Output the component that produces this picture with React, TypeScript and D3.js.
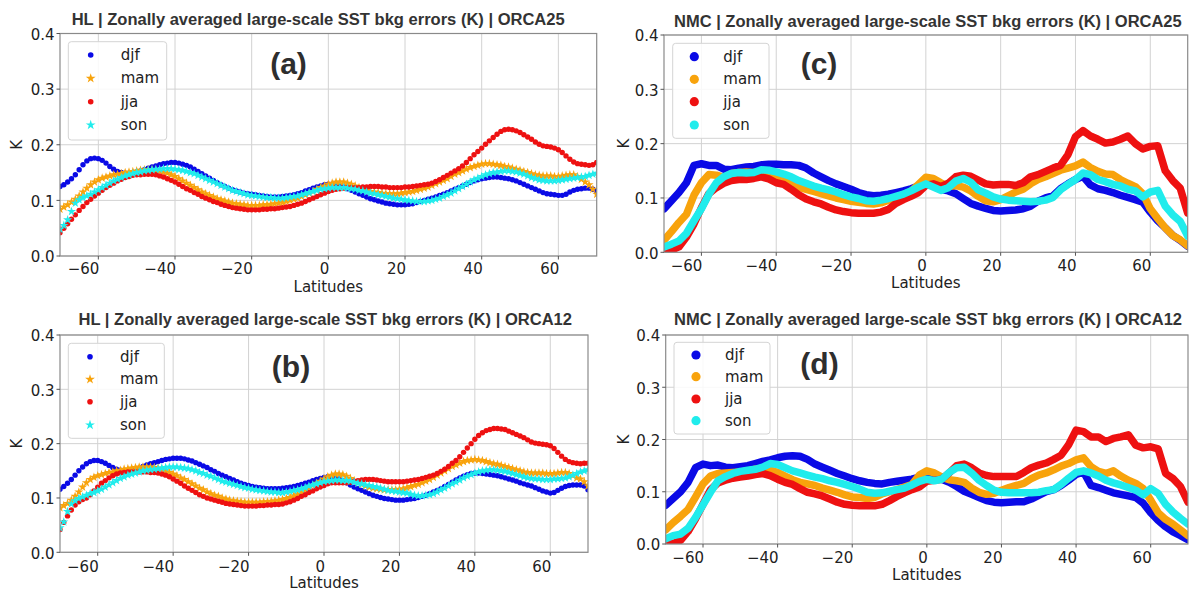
import * as d3 from "d3";

// latitude grids (deg)
const LAT_HL = [
  -70, -69, -68, -67, -66, -65, -64, -63, -62, -61, -60, -59, -58, -57, -56, -55, -54, -53, -52, -51,
  -50, -49, -48, -47, -46, -45, -44, -43, -42, -41, -40, -39, -38, -37, -36, -35, -34, -33, -32, -31,
  -30, -29, -28, -27, -26, -25, -24, -23, -22, -21, -20, -19, -18, -17, -16, -15, -14, -13, -12, -11,
  -10, -9, -8, -7, -6, -5, -4, -3, -2, -1, 0, 1, 2, 3, 4, 5, 6, 7, 8, 9,
  10, 11, 12, 13, 14, 15, 16, 17, 18, 19, 20, 21, 22, 23, 24, 25, 26, 27, 28, 29,
  30, 31, 32, 33, 34, 35, 36, 37, 38, 39, 40, 41, 42, 43, 44, 45, 46, 47, 48, 49,
  50, 51, 52, 53, 54, 55, 56, 57, 58, 59, 60, 61, 62, 63, 64, 65, 66, 67, 68, 69, 70,
];
const LAT_NMC = [
  -70, -68, -66, -64, -62, -60, -58, -56, -54, -52, -50, -48, -46, -44, -42, -40, -38, -36, -34, -32,
  -30, -28, -26, -24, -22, -20, -18, -16, -14, -12, -10, -8, -6, -4, -2, 0, 2, 4, 6, 8,
  10, 12, 14, 16, 18, 20, 22, 24, 26, 28, 30, 32, 34, 36, 38, 40, 42, 44, 46, 48,
  50, 52, 54, 56, 58, 60, 62, 64, 66, 68, 70,
];

const SEASONS = ["djf", "mam", "jja", "son"];
const X_TICKS = [-60, -40, -20, 0, 20, 40, 60];
const Y_TICKS = [0, 0.1, 0.2, 0.3, 0.4];
const Y_TICK_LABELS = ["0.0", "0.1", "0.2", "0.3", "0.4"];

// values in mK (1e-3 K)
const HL25_DJF = [
  125, 128, 133, 139, 146, 155, 164, 171, 175, 176, 175, 172, 167, 161, 156, 152, 150, 149, 149, 150,
  151, 153, 155, 158, 160, 162, 164, 166, 167, 168, 168, 167, 165, 163, 160, 156, 152, 148, 144, 140,
  136, 132, 128, 125, 122, 119, 117, 115, 113, 112, 111, 110, 109, 108, 107, 106, 106, 106, 107, 108,
  109, 110, 112, 114, 117, 119, 122, 124, 126, 128, 129, 129, 128, 126, 124, 121, 118, 115, 112, 109,
  106, 103, 101, 99, 97, 95, 94, 93, 92, 92, 92, 93, 94, 96, 98, 100, 102, 104, 106, 109,
  111, 114, 117, 120, 123, 126, 129, 132, 135, 137, 139, 140, 141, 142, 142, 141, 140, 139, 137, 135,
  132, 129, 126, 123, 120, 117, 114, 112, 111, 110, 109, 109, 111, 115, 118, 120, 121, 122, 122, 120, 117,
];
const HL25_MAM = [
  84, 88, 92, 97, 102, 108, 115, 122, 128, 133, 137, 140, 142, 144, 146, 147, 148, 150, 151, 152,
  153, 154, 155, 155, 155, 154, 153, 151, 149, 146, 143, 139, 135, 131, 127, 123, 119, 115, 112, 109,
  106, 103, 101, 99, 97, 95, 94, 93, 92, 91, 91, 91, 91, 92, 92, 93, 94, 95, 96, 98,
  100, 102, 104, 107, 110, 113, 116, 120, 123, 126, 129, 131, 133, 133, 133, 131, 129, 126, 123, 120,
  118, 116, 115, 114, 113, 112, 112, 112, 112, 113, 114, 115, 116, 118, 120, 122, 124, 127, 130, 133,
  136, 139, 143, 147, 150, 153, 156, 159, 161, 163, 165, 166, 166, 165, 164, 163, 161, 160, 158, 156,
  154, 152, 150, 148, 146, 145, 144, 144, 144, 143, 143, 144, 145, 146, 146, 143, 138, 133, 128, 120, 111,
];
const HL25_JJA = [
  42, 50, 58, 66, 74, 82, 89, 96, 102, 108, 113, 118, 123, 127, 131, 135, 138, 141, 143, 145,
  146, 146, 147, 147, 147, 146, 144, 142, 139, 136, 133, 129, 125, 121, 118, 114, 111, 107, 104, 101,
  98, 96, 93, 91, 89, 87, 86, 85, 84, 83, 83, 83, 83, 84, 84, 85, 85, 86, 87, 88,
  89, 91, 93, 95, 98, 101, 104, 107, 110, 113, 116, 118, 120, 121, 122, 123, 123, 123, 123, 124,
  124, 125, 125, 125, 124, 124, 123, 123, 123, 123, 124, 124, 125, 126, 127, 128, 129, 131, 134, 137,
  141, 145, 149, 153, 157, 162, 168, 175, 182, 188, 194, 201, 207, 213, 219, 224, 227, 228, 227, 225,
  222, 218, 214, 210, 205, 201, 198, 197, 196, 194, 191, 186, 180, 174, 169, 166, 165, 164, 163, 164, 168,
];
const HL25_SON = [
  48, 55, 65, 80, 95, 101, 105, 108, 111, 115, 119, 123, 127, 131, 135, 138, 141, 144, 146, 148,
  150, 151, 153, 154, 155, 156, 156, 157, 157, 157, 156, 155, 154, 152, 150, 148, 145, 142, 139, 136,
  133, 130, 127, 124, 121, 118, 116, 114, 112, 110, 109, 108, 107, 106, 105, 105, 104, 104, 104, 105,
  106, 107, 108, 110, 112, 114, 116, 118, 120, 121, 122, 123, 123, 123, 123, 122, 121, 120, 118, 117,
  115, 113, 112, 110, 109, 107, 106, 104, 103, 102, 101, 100, 99, 98, 98, 98, 99, 100, 102, 104,
  107, 110, 113, 117, 121, 125, 129, 133, 137, 140, 143, 146, 148, 150, 151, 152, 153, 153, 152, 151,
  149, 147, 144, 141, 139, 137, 136, 135, 135, 135, 136, 137, 138, 139, 140, 141, 142, 143, 145, 147, 149,
];

const HL12_DJF = [
  116, 121, 127, 134, 142, 150, 157, 163, 167, 169, 169, 167, 164, 160, 156, 153, 151, 150, 150, 151,
  153, 155, 158, 161, 163, 165, 167, 169, 171, 172, 173, 173, 173, 172, 170, 168, 165, 162, 159, 156,
  152, 149, 145, 142, 139, 136, 133, 130, 127, 125, 123, 121, 120, 119, 118, 117, 117, 117, 117, 118,
  119, 120, 121, 123, 125, 127, 129, 132, 134, 136, 138, 139, 138, 137, 135, 132, 128, 124, 120, 117,
  114, 111, 108, 105, 103, 101, 99, 98, 97, 96, 96, 96, 97, 98, 99, 101, 103, 105, 108, 111,
  114, 117, 121, 125, 129, 133, 137, 140, 143, 145, 146, 146, 145, 144, 143, 142, 141, 139, 137, 135,
  133, 131, 128, 126, 124, 122, 119, 116, 113, 111, 109, 110, 114, 118, 121, 123, 124, 124, 124, 122, 115,
];
const HL12_MAM = [
  82, 86, 90, 96, 103, 111, 120, 128, 134, 138, 141, 143, 145, 147, 148, 150, 151, 153, 154, 155,
  156, 157, 157, 157, 157, 156, 155, 153, 150, 147, 144, 141, 137, 134, 130, 126, 122, 118, 115, 111,
  108, 105, 103, 100, 98, 96, 95, 94, 93, 92, 92, 92, 92, 92, 93, 93, 94, 95, 96, 97,
  99, 101, 104, 107, 111, 115, 119, 123, 127, 131, 135, 139, 142, 144, 144, 143, 140, 136, 132, 128,
  125, 122, 120, 118, 117, 116, 115, 115, 115, 115, 116, 117, 119, 121, 123, 125, 128, 131, 134, 138,
  142, 146, 150, 154, 158, 161, 164, 167, 169, 170, 171, 170, 169, 167, 165, 163, 162, 160, 158, 156,
  154, 152, 150, 148, 147, 146, 146, 146, 146, 145, 145, 145, 146, 147, 147, 145, 141, 137, 135, 130, 122,
];
const HL12_JJA = [
  42, 55, 67, 78, 87, 93, 97, 100, 106, 113, 120, 127, 132, 137, 141, 144, 146, 147, 148, 148,
  148, 148, 148, 148, 147, 147, 146, 144, 142, 139, 135, 131, 127, 122, 118, 114, 110, 106, 103, 100,
  98, 96, 94, 92, 90, 89, 88, 87, 86, 85, 85, 85, 85, 86, 86, 87, 87, 88, 88, 89,
  91, 93, 96, 99, 103, 106, 110, 113, 117, 120, 123, 126, 128, 128, 128, 128, 128, 129, 131, 132,
  133, 134, 134, 134, 133, 132, 131, 130, 130, 130, 130, 130, 131, 132, 133, 134, 136, 138, 140, 142,
  145, 149, 153, 158, 164, 169, 176, 184, 192, 200, 208, 215, 220, 224, 226, 228, 228, 227, 226, 223,
  220, 217, 214, 211, 207, 203, 201, 200, 199, 198, 196, 191, 184, 177, 171, 167, 165, 164, 163, 164, 164,
];
const HL12_SON = [
  45, 56, 75, 89, 95, 99, 102, 105, 108, 110, 113, 116, 120, 124, 128, 132, 136, 139, 142, 144,
  146, 148, 150, 151, 152, 153, 154, 155, 156, 157, 157, 157, 156, 155, 154, 152, 150, 147, 145, 142,
  140, 137, 134, 131, 129, 127, 125, 123, 121, 119, 118, 116, 115, 114, 113, 112, 111, 111, 110, 110,
  111, 112, 114, 115, 117, 119, 122, 124, 126, 128, 130, 131, 132, 133, 133, 132, 132, 131, 129, 127,
  126, 124, 123, 121, 120, 118, 116, 114, 113, 112, 111, 110, 109, 107, 105, 104, 104, 105, 106, 108,
  111, 115, 118, 122, 126, 129, 133, 137, 140, 143, 146, 148, 150, 151, 152, 152, 151, 150, 149, 147,
  145, 143, 141, 139, 137, 136, 135, 135, 134, 134, 134, 135, 135, 136, 137, 139, 142, 145, 148, 150, 152,
];

const NMC25_DJF = [
  80, 95, 110, 128, 160, 163, 160, 160, 153, 152, 155, 157, 158, 161, 162, 162, 161, 161, 160, 155,
  146, 139, 132, 126, 121, 116, 110, 106, 104, 105, 107, 110, 113, 117, 122, 126, 125, 116, 113, 108,
  99, 90, 85, 81, 77, 76, 77, 78, 80, 85, 94, 100, 104, 117, 126, 134, 140, 124, 117, 114,
  110, 105, 101, 97, 92, 74, 58, 45, 31, 22, 11,
];
const NMC25_MAM = [
  22, 38, 55, 70, 105, 128, 143, 142, 138, 145, 147, 148, 147, 148, 145, 139, 133, 126, 120, 116,
  112, 108, 104, 100, 97, 94, 92, 90, 89, 91, 96, 101, 106, 112, 125, 138, 136, 128, 121, 123,
  120, 113, 103, 95, 93, 97, 104, 111, 116, 126, 134, 139, 145, 151, 155, 159, 166, 156, 149, 144,
  143, 134, 127, 121, 108, 80, 62, 45, 31, 23, 12,
];
const NMC25_JJA = [
  0, 4, 10, 28, 52, 82, 108, 119, 127, 132, 134, 134, 136, 139, 135, 128, 125, 116, 106, 98,
  93, 89, 83, 78, 75, 73, 72, 72, 72, 74, 79, 90, 97, 103, 110, 123, 126, 121, 127, 139,
  142, 140, 133, 126, 124, 125, 125, 123, 128, 139, 143, 149, 155, 160, 180, 213, 224, 214, 208, 201,
  203, 208, 214, 200, 190, 195, 196, 150, 132, 118, 72,
];
const NMC25_SON = [
  10, 15, 21, 35, 58, 80, 107, 128, 139, 145, 147, 146, 147, 152, 151, 148, 144, 139, 132, 127,
  122, 118, 115, 111, 106, 102, 99, 95, 94, 96, 99, 103, 107, 113, 120, 126, 120, 114, 119, 131,
  136, 129, 115, 109, 102, 98, 96, 95, 94, 93, 94, 96, 101, 115, 125, 134, 146, 143, 134, 130,
  125, 122, 116, 113, 102, 111, 114, 85, 69, 57, 30,
];

const NMC12_DJF = [
  74, 87, 100, 118, 146, 153, 150, 151, 147, 146, 148, 150, 154, 158, 161, 165, 168, 169, 168, 162,
  153, 147, 141, 135, 130, 125, 121, 118, 116, 115, 118, 120, 122, 124, 128, 134, 131, 124, 118, 110,
  101, 95, 89, 83, 80, 79, 80, 81, 81, 86, 93, 100, 104, 112, 122, 133, 138, 112, 108, 103,
  98, 95, 92, 89, 78, 60, 45, 33, 23, 16, 8,
];
const NMC12_MAM = [
  27, 41, 53, 66, 90, 115, 130, 135, 136, 137, 138, 140, 143, 145, 142, 137, 130, 123, 118, 115,
  112, 107, 103, 99, 94, 90, 89, 87, 89, 96, 100, 104, 109, 114, 132, 140, 136, 128, 123, 121,
  118, 107, 99, 95, 97, 103, 108, 112, 116, 125, 132, 136, 142, 149, 154, 161, 165, 148, 139, 135,
  140, 130, 122, 116, 106, 84, 60, 47, 38, 27, 16,
];
const NMC12_JJA = [
  0, 1, 7, 24, 48, 76, 104, 117, 122, 126, 128, 130, 133, 135, 131, 124, 118, 114, 106, 99,
  96, 92, 86, 80, 76, 74, 73, 73, 73, 76, 83, 91, 98, 104, 109, 120, 122, 124, 136, 150,
  153, 146, 136, 131, 129, 129, 129, 129, 137, 146, 151, 155, 162, 170, 190, 218, 215, 205, 205, 196,
  202, 205, 209, 189, 184, 186, 182, 135, 125, 110, 80,
];
const NMC12_SON = [
  10, 16, 19, 30, 51, 75, 99, 121, 129, 135, 139, 141, 143, 147, 154, 152, 146, 140, 136, 132,
  128, 125, 121, 118, 114, 110, 105, 99, 97, 98, 101, 104, 107, 113, 120, 124, 121, 124, 137, 146,
  147, 136, 122, 112, 103, 99, 98, 98, 98, 98, 99, 102, 104, 114, 126, 137, 140, 136, 130, 122,
  117, 113, 108, 103, 94, 106, 97, 76, 61, 49, 38,
];

const COLORS: Record<string, string> = {
  djf: "#0a0ae6",
  mam: "#f8a30c",
  jja: "#ee1111",
  son: "#20ecec",
};
const MARKER: Record<string, string> = { djf: "circle", mam: "star", jja: "circle", son: "star" };

const FONT = "'DejaVu Sans', sans-serif";
const TITLE_FONT = "'Liberation Sans', Arial, sans-serif";

const panels = [
  {
    id: "a",
    title: "HL | Zonally averaged large-scale SST bkg errors (K) | ORCA25",
    kind: "markers",
    lats: LAT_HL,
    series: [HL25_DJF, HL25_MAM, HL25_JJA, HL25_SON],
    x0: 60, x1: 596.7, y0: 33.5, y1: 256,
    titleX: 71.7, titleW: 493, titleY: 25,
    leg: { x: 68.3, y: 41.7, w: 98.4, h: 98.3, mx: 90.7, tx: 120.7, rows: [55, 78.3, 101.7, 125] },
    tag: { x: 288.5, y: 73.7 },
    tickY: 274, labelY: 291.7, kX: 16,
  },
  {
    id: "b",
    title: "HL | Zonally averaged large-scale SST bkg errors (K) | ORCA12",
    kind: "markers",
    lats: LAT_HL,
    series: [HL12_DJF, HL12_MAM, HL12_JJA, HL12_SON],
    x0: 60, x1: 588, y0: 335, y1: 552.3,
    titleX: 78.5, titleW: 493.5, titleY: 325,
    leg: { x: 68.3, y: 343.3, w: 96, h: 95, mx: 90, tx: 120, rows: [356.7, 379.3, 401.7, 425] },
    tag: { x: 291, y: 377 },
    tickY: 571.7, labelY: 588, kX: 16,
  },
  {
    id: "c",
    title: "NMC | Zonally averaged large-scale SST bkg errors (K) | ORCA25",
    kind: "lines",
    lats: LAT_NMC,
    series: [NMC25_DJF, NMC25_MAM, NMC25_JJA, NMC25_SON],
    x0: 664, x1: 1187.7, y0: 35, y1: 252.3,
    titleX: 674, titleW: 507.7, titleY: 26.5,
    leg: { x: 672.7, y: 43.3, w: 96.3, h: 95, mx: 694.3, tx: 723.3, rows: [56.7, 79.3, 101.7, 125] },
    tag: { x: 819, y: 73.7 },
    tickY: 270.7, labelY: 288, kX: 623,
  },
  {
    id: "d",
    title: "NMC | Zonally averaged large-scale SST bkg errors (K) | ORCA12",
    kind: "lines",
    lats: LAT_NMC,
    series: [NMC12_DJF, NMC12_MAM, NMC12_JJA, NMC12_SON],
    x0: 665.7, x1: 1188, y0: 335, y1: 544,
    titleX: 674, titleW: 508, titleY: 325,
    leg: { x: 674, y: 342.3, w: 96, h: 91.7, mx: 696, tx: 725, rows: [355, 376.7, 399, 420.7] },
    tag: { x: 819.5, y: 373.7 },
    tickY: 563.3, labelY: 580, kX: 623.5,
  },
];

const starPath = d3.symbol(d3.symbolStar, 26)() as string;
const starLegend = d3.symbol(d3.symbolStar, 30)() as string;

function Panel({ p }: { p: (typeof panels)[number] }) {
  const x = d3.scaleLinear().domain([-70, 70]).range([p.x0, p.x1]);
  const y = d3.scaleLinear().domain([0, 0.4]).range([p.y1, p.y0]);
  const line = d3
    .line<number>()
    .x((_, i) => x(p.lats[i]))
    .y((v) => y(v / 1000));
  const clipId = `clip-${p.id}`;

  return (
    <g>
      <defs>
        <clipPath id={clipId}>
          <rect x={p.x0} y={p.y0} width={p.x1 - p.x0} height={p.y1 - p.y0} />
        </clipPath>
      </defs>

      {/* grid */}
      {X_TICKS.map((t) => (
        <line key={"gx" + t} x1={x(t)} x2={x(t)} y1={p.y0} y2={p.y1} stroke="#d2d2d2" strokeWidth={1} />
      ))}
      {Y_TICKS.map((t) => (
        <line key={"gy" + t} x1={p.x0} x2={p.x1} y1={y(t)} y2={y(t)} stroke="#d2d2d2" strokeWidth={1} />
      ))}

      {/* data */}
      <g clipPath={`url(#${clipId})`}>
        {p.series.map((vals, si) => {
          const s = SEASONS[si];
          const c = COLORS[s];
          if (p.kind === "lines") {
            return (
              <path
                key={s}
                d={line(vals) as string}
                fill="none"
                stroke={c}
                strokeWidth={7.5}
                strokeLinejoin="round"
                strokeLinecap="round"
              />
            );
          }
          return (
            <g key={s} fill={c}>
              {vals.map((v, i) =>
                MARKER[s] === "circle" ? (
                  <circle key={i} cx={x(p.lats[i])} cy={y(v / 1000)} r={2.7} />
                ) : (
                  <path key={i} d={starPath} transform={`translate(${x(p.lats[i])},${y(v / 1000)})`} />
                )
              )}
            </g>
          );
        })}
      </g>

      {/* frame */}
      <rect x={p.x0} y={p.y0} width={p.x1 - p.x0} height={p.y1 - p.y0} fill="none" stroke="#8a8a8a" strokeWidth={1.2} />

      {/* ticks */}
      {X_TICKS.map((t) => (
        <g key={"tx" + t}>
          <line x1={x(t)} x2={x(t)} y1={p.y1} y2={p.y1 + 3.5} stroke="#555" strokeWidth={1} />
          <text
            x={x(t) + 1}
            y={p.tickY}
            textAnchor="end"
            fontFamily={FONT}
            fontSize={15}
            fill="#222"
          >
            {d3.format("")(t).replace("-", "\u2212")}
          </text>
        </g>
      ))}
      {Y_TICKS.map((t, i) => (
        <g key={"ty" + t}>
          <line x1={p.x0 - 3.5} x2={p.x0} y1={y(t)} y2={y(t)} stroke="#555" strokeWidth={1} />
          <text x={p.x0 - 5.5} y={y(t) + 6.3} textAnchor="end" fontFamily={FONT} fontSize={15} fill="#222">
            {Y_TICK_LABELS[i]}
          </text>
        </g>
      ))}

      {/* axis labels */}
      <text x={(p.x0 + p.x1) / 2} y={p.labelY} textAnchor="middle" fontFamily={FONT} fontSize={15} fill="#222">
        Latitudes
      </text>
      <text
        transform={`translate(${p.kX + 5.5},${(p.y0 + p.y1) / 2}) rotate(-90)`}
        textAnchor="middle"
        fontFamily={FONT}
        fontSize={15}
        fill="#222"
      >
        K
      </text>

      {/* title */}
      <text
        x={p.titleX}
        y={p.titleY}
        fontFamily={TITLE_FONT}
        fontWeight="bold"
        fontSize={16}
        fill="#333"
        textLength={p.titleW}
        lengthAdjust="spacingAndGlyphs"
      >
        {p.title}
      </text>

      {/* panel tag */}
      <text
        x={p.tag.x}
        y={p.tag.y}
        textAnchor="middle"
        fontFamily={TITLE_FONT}
        fontWeight="bold"
        fontSize={30}
        fill="#2e2e2e"
      >
        ({p.id})
      </text>

      {/* legend */}
      <rect
        x={p.leg.x}
        y={p.leg.y}
        width={p.leg.w}
        height={p.leg.h}
        rx={3}
        fill="white"
        fillOpacity={0.85}
        stroke="#d4d4d4"
        strokeWidth={1}
      />
      {SEASONS.map((s, i) => {
        const ry = p.leg.rows[i];
        const c = COLORS[s];
        let marker;
        if (p.kind === "lines") marker = <circle cx={p.leg.mx} cy={ry} r={4.6} fill={c} />;
        else if (MARKER[s] === "circle") marker = <circle cx={p.leg.mx} cy={ry} r={2.8} fill={c} />;
        else marker = <path d={starLegend} transform={`translate(${p.leg.mx},${ry})`} fill={c} />;
        return (
          <g key={s}>
            {marker}
            <text x={p.leg.tx} y={ry + 5} fontFamily={FONT} fontSize={15} fill="#222">
              {s}
            </text>
          </g>
        );
      })}
    </g>
  );
}

export default function App() {
  return (
    <svg
      width={1189}
      height={593}
      viewBox="0 0 1189 593"
      style={{ position: "absolute", left: 0, top: 0, background: "white" }}
    >
      <rect x={0} y={0} width={1189} height={593} fill="white" />
      {panels.map((p) => (
        <Panel key={p.id} p={p} />
      ))}
    </svg>
  );
}
